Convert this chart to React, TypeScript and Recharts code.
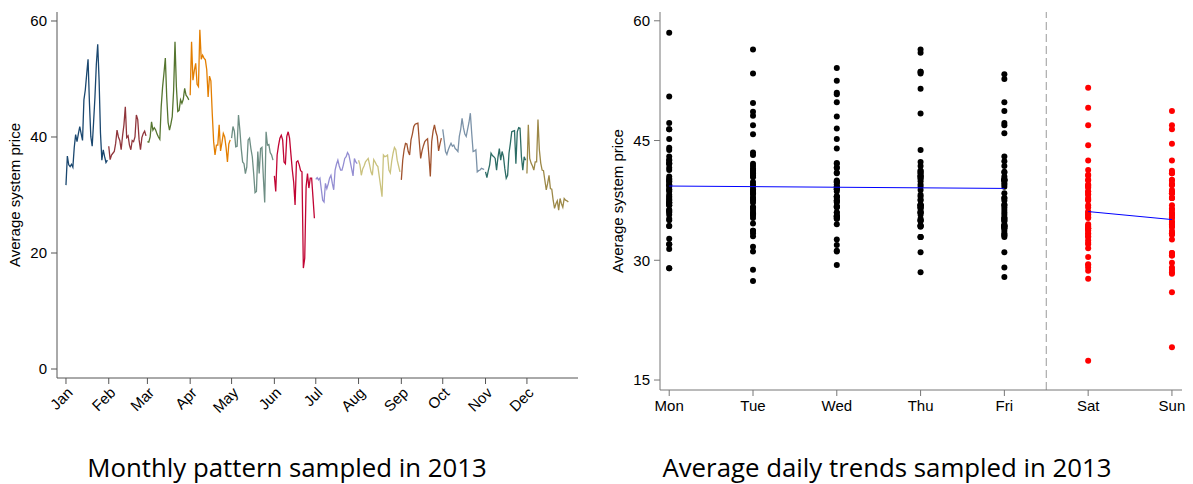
import React from "react";
import { LineChart, Line, XAxis, YAxis, ScatterChart, Scatter, ReferenceLine } from "recharts";

// daily average system price, 2013, one array per month
const jan = [31.7, 36.7, 35.2, 34.9, 35.3, 34.8, 38.2, 40.4, 39.2, 40.6, 41.8, 40.6, 39.4, 46.4, 48.1, 50.8, 53.4, 45.9, 40.1, 38.4, 42.5, 46.9, 52.5, 56.0, 49.8, 40.7, 36.0, 37.8, 36.6, 35.6, 36.0];
const feb = [38.4, 36.1, 36.9, 37.2, 37.5, 38.9, 41.2, 40.0, 39.4, 37.8, 40.2, 42.1, 45.2, 39.9, 40.2, 38.6, 37.8, 39.4, 39.2, 40.0, 43.8, 43.0, 39.5, 37.8, 39.9, 40.6, 41.0, 40.2];
const mar = [39.2, 39.1, 40.0, 42.6, 41.2, 41.6, 41.2, 40.5, 40.0, 39.6, 45.2, 48.6, 51.0, 53.6, 46.9, 42.5, 41.2, 42.2, 43.5, 48.0, 56.4, 48.7, 44.4, 44.6, 46.4, 45.8, 46.5, 48.4, 47.2, 46.9, 46.4];
const apr = [47.2, 56.4, 49.8, 51.5, 52.7, 49.1, 48.7, 58.5, 53.4, 54.1, 53.6, 53.3, 51.6, 46.9, 50.5, 49.7, 44.0, 39.2, 36.9, 38.6, 38.6, 42.1, 37.6, 39.0, 40.6, 40.0, 38.2, 35.7, 38.8, 39.5];
const may = [39.8, 41.8, 41.0, 38.3, 38.4, 43.8, 41.2, 38.0, 35.7, 35.4, 33.7, 34.8, 39.5, 39.8, 38.0, 36.6, 33.7, 30.4, 30.6, 37.5, 33.7, 38.0, 38.2, 33.1, 28.7, 40.9, 38.6, 38.7, 37.3, 36.9, 36.0];
const jun = [33.3, 30.6, 36.9, 38.5, 39.8, 40.3, 39.5, 35.7, 35.4, 40.1, 40.9, 39.8, 37.0, 34.3, 32.2, 28.3, 35.7, 35.9, 35.2, 34.2, 34.0, 17.4, 19.1, 31.4, 33.7, 31.2, 32.9, 32.9, 29.5, 26.0];
const jul = [32.7, 33.0, 32.6, 32.9, 31.0, 29.1, 28.8, 32.0, 31.1, 31.9, 32.9, 33.4, 32.0, 30.9, 34.3, 35.3, 36.0, 35.0, 34.3, 34.3, 35.2, 36.3, 36.6, 37.3, 36.9, 35.7, 34.5, 33.3, 36.3, 35.7, 35.4];
const aug = [36.0, 35.2, 33.4, 34.5, 35.0, 35.7, 36.0, 36.3, 35.2, 34.0, 33.4, 36.1, 35.7, 35.2, 34.9, 33.2, 31.5, 29.7, 36.9, 36.6, 36.7, 36.9, 34.3, 33.8, 35.8, 37.2, 38.2, 37.8, 36.0, 35.0, 34.0];
const sep = [32.6, 36.0, 37.8, 38.9, 38.8, 37.5, 36.9, 39.5, 40.5, 41.8, 42.2, 42.3, 42.4, 39.2, 36.3, 37.6, 38.5, 39.2, 39.5, 39.7, 36.6, 33.2, 39.2, 41.0, 42.1, 40.9, 40.1, 37.6, 38.8, 39.8];
const oct = [41.3, 39.5, 37.5, 37.0, 37.8, 38.4, 38.9, 38.4, 38.6, 38.0, 37.8, 37.5, 40.1, 41.3, 43.2, 41.6, 40.5, 40.1, 41.3, 42.5, 44.1, 40.6, 37.5, 37.6, 37.8, 34.0, 34.2, 34.3, 34.6, 34.5, 34.4];
const nov = [34.0, 33.0, 34.2, 35.2, 37.2, 36.8, 36.6, 36.3, 34.3, 36.5, 38.0, 36.0, 37.5, 36.6, 34.5, 32.9, 33.4, 37.2, 38.9, 40.9, 41.0, 41.1, 35.4, 40.9, 41.6, 41.5, 36.6, 34.3, 36.6, 36.0];
const dec = [33.7, 42.1, 36.3, 35.5, 35.0, 34.3, 35.7, 35.7, 43.0, 37.8, 35.5, 34.3, 34.2, 32.5, 30.9, 32.0, 33.4, 31.1, 31.0, 29.1, 27.7, 28.5, 29.0, 27.4, 29.4, 28.5, 27.9, 29.4, 29.1, 29.0, 28.8];

const monthValues = [jan, feb, mar, apr, may, jun, jul, aug, sep, oct, nov, dec];
const months = ["Jan", "Feb", "Mar", "Apr", "May", "Jun", "Jul", "Aug", "Sep", "Oct", "Nov", "Dec"];
const monthStarts = [0, 31, 59, 90, 120, 151, 181, 212, 243, 273, 304, 334];
const monthColors = ["#1a476f", "#90353b", "#55752f", "#e37e00", "#6e8e84", "#c10534", "#938dd2", "#cac27e", "#a0522d", "#7b92a8", "#2d6d66", "#9c8847"];

const weekdays = ["Mon", "Tue", "Wed", "Thu", "Fri", "Sat", "Sun"];
const firstWeekday = 1; // 1 Jan 2013 was a Tuesday (Mon = 0)
const weekdayFit = [39.3, 39.0]; // Mon -> Fri
const weekendFit = [36.1, 35.1]; // Sat -> Sun

const leftTicks = [0, 20, 40, 60];
const rightTicks = [15, 30, 45, 60];

const monthSeries = monthValues.map((vals, m) =>
  vals.map((v, j) => ({ day: monthStarts[m] + j, price: v }))
);
const daily = monthSeries.flat();
const withWd = daily.map((p) => ({ wd: (p.day + firstWeekday) % 7, price: p.price }));
const weekdayDots = withWd.filter((p) => p.wd < 5).map((p) => ({ x: p.wd + 1, y: p.price }));
const weekendDots = withWd.filter((p) => p.wd >= 5).map((p) => ({ x: p.wd + 1, y: p.price }));
const weekdayLine = [{ x: 1, y: weekdayFit[0] }, { x: 5, y: weekdayFit[1] }];
const weekendLine = [{ x: 6, y: weekendFit[0] }, { x: 7, y: weekendFit[1] }];

const font = "'Liberation Sans', Arial, sans-serif";
const titleFont = "'Open Sans', Lato, sans-serif";
const tickStyle = { fill: "#000", fontSize: 15, fontFamily: font };

function MonthTick(props: any) {
  const { x, payload } = props;
  const i = monthStarts.indexOf(payload.value);
  const tx = x + 4;
  const ty = 390;
  return (
    <text x={tx} y={ty} textAnchor="end" dy="0.35em" transform={`rotate(-45 ${tx} ${ty})`} {...tickStyle}>
      {months[i]}
    </text>
  );
}

const blackDot = (p: any) => <circle cx={p.cx} cy={p.cy} r={3} fill="#000" />;
const redDot = (p: any) => <circle cx={p.cx} cy={p.cy} r={3} fill="#ff0000" />;
const noDot = () => <g />;

export default function App() {
  return (
    <div style={{ position: "absolute", left: 0, top: 0, width: 1193, height: 484, background: "#fff" }}>
      <div style={{ position: "absolute", left: 0, top: 0 }}>
        <LineChart width={600} height={430} margin={{ top: 12, right: 22, left: 0, bottom: 0 }}>
          <XAxis
            type="number"
            dataKey="day"
            domain={[-6.5, 371]}
            ticks={monthStarts}
            interval={0}
            allowDataOverflow
            height={52}
            tickSize={6}
            axisLine={{ stroke: "#555" }}
            tickLine={{ stroke: "#555" }}
            tick={<MonthTick />}
          />
          <YAxis
            type="number"
            domain={[-1.55, 61.55]}
            ticks={leftTicks}
            interval={0}
            allowDataOverflow
            width={57}
            tickSize={6}
            tickMargin={4}
            axisLine={{ stroke: "#555" }}
            tickLine={{ stroke: "#555" }}
            tick={tickStyle}
          />
          {monthSeries.map((data, m) => (
            <Line
              key={months[m]}
              data={data}
              dataKey="price"
              type="linear"
              stroke={monthColors[m]}
              strokeWidth={1.3}
              dot={false}
              isAnimationActive={false}
            />
          ))}
        </LineChart>
      </div>
      <div style={{ position: "absolute", left: 600, top: 0 }}>
        <ScatterChart width={593} height={430} margin={{ top: 12, right: 11, left: 0, bottom: 0 }}>
          <XAxis
            type="number"
            dataKey="x"
            domain={[0.89, 7.12]}
            ticks={[1, 2, 3, 4, 5, 6, 7]}
            interval={0}
            allowDataOverflow
            height={40}
            tickSize={6}
            tickMargin={4}
            axisLine={{ stroke: "#777" }}
            tickLine={{ stroke: "#777" }}
            tick={tickStyle}
            tickFormatter={(v: number) => weekdays[v - 1]}
          />
          <YAxis
            type="number"
            dataKey="y"
            domain={[13.75, 61.1]}
            ticks={rightTicks}
            interval={0}
            allowDataOverflow
            width={60}
            tickSize={6}
            tickMargin={4}
            axisLine={{ stroke: "#777" }}
            tickLine={{ stroke: "#777" }}
            tick={tickStyle}
          />
          <ReferenceLine x={5.5} stroke="#999" strokeDasharray="8 4" />
          <Scatter data={weekdayDots} shape={blackDot} isAnimationActive={false} />
          <Scatter data={weekendDots} shape={redDot} isAnimationActive={false} />
          <Scatter data={weekdayLine} line={{ stroke: "#0000ff", strokeWidth: 1 }} shape={noDot} isAnimationActive={false} />
          <Scatter data={weekendLine} line={{ stroke: "#0000ff", strokeWidth: 1 }} shape={noDot} isAnimationActive={false} />
        </ScatterChart>
      </div>
      <svg width={1193} height={484} style={{ position: "absolute", left: 0, top: 0, pointerEvents: "none" }}>
        <text x={20} y={195} textAnchor="middle" transform="rotate(-90 20 195)" fontSize={15} fontFamily={font} fill="#000">
          Average system price
        </text>
        <text x={623} y={201} textAnchor="middle" transform="rotate(-90 623 201)" fontSize={15} fontFamily={font} fill="#000">
          Average system price
        </text>
        <text x={287} y={477} textAnchor="middle" fontSize={25.8} fontFamily={titleFont} fill="#000">
          Monthly pattern sampled in 2013
        </text>
        <text x={887} y={477} textAnchor="middle" fontSize={25.8} fontFamily={titleFont} fill="#000">
          Average daily trends sampled in 2013
        </text>
      </svg>
    </div>
  );
}
